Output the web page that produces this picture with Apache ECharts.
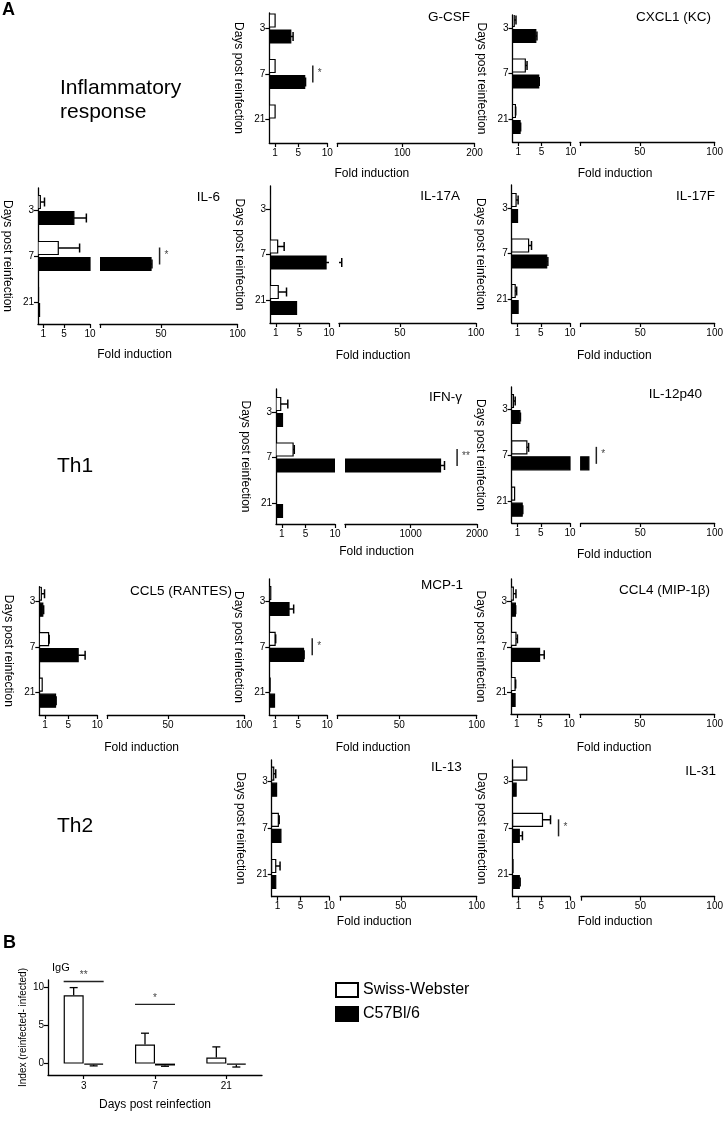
<!DOCTYPE html>
<html><head><meta charset="utf-8">
<script src="https://cdn.jsdelivr.net/npm/echarts@6/dist/echarts.min.js"></script>
<style>html,body{margin:0;padding:0;background:#fff}#c{width:726px;height:1141px}</style>
</head><body><div id="c"></div>
<script>
// ---------- DATA ----------
const categories = ['3', '7', '21'];
const lowTicks = [1, 5, 10];
const highTicks100 = [50, 100];
const highTicks200 = [100, 200];
const highTicks2000 = [1000, 2000];

// Fold induction, order: day 3, day 7, day 21 ; SW = Swiss-Webster (white), B6 = C57Bl/6 (black)
const gcsfSW = [1.0, 1.0, 1.0];     const gcsfSWErr = [0, 0, 0];
const gcsfB6 = [3.7, 6.1, 0];       const gcsfB6Err = [0.4, 0.15, 0];
const gcsfSig = [[7.5, 1, '*']];

const cxcl1SW = [0.3, 2.2, 0.5];    const cxcl1SWErr = [0.3, 0.3, 0.05];
const cxcl1B6 = [4.0, 4.5, 1.3];    const cxcl1B6Err = [0.2, 0.1, 0.1];
const cxcl1Sig = [];

const il6SW = [0.45, 3.9, 0.1];     const il6SWErr = [0.8, 4.1, 0];
const il6B6 = [6.9, 43.4, 0.3];     const il6B6Err = [2.4, 0.6, 0];
const il6Sig = [[49, 1, '*']];

const il17aSW = [0.05, 1.3, 1.4];   const il17aSWErr = [0, 1.1, 1.4];
const il17aB6 = [0.05, 9.5, 4.5];   const il17aB6Err = [0, 2.3, 0];
const il17aSig = [];

const il17fSW = [0.75, 2.9, 0.6];   const il17fSWErr = [0.35, 0.5, 0.25];
const il17fB6 = [1.0, 6.0, 1.1];    const il17fB6Err = [0, 0.2, 0];
const il17fSig = [];

const ifngSW = [0.8, 2.9, 0];       const ifngSWErr = [1.2, 0.2, 0];
const ifngB6 = [1.1, 1450, 1.1];    const ifngB6Err = [0, 60, 0];
const ifngSig = [[1700, 1, '**']];

const il12SW = [0.3, 2.6, 0.5];     const il12SWErr = [0.3, 0.3, 0];
const il12B6 = [1.4, 15.5, 1.8];    const il12B6Err = [0.1, 0, 0.1];
const il12Sig = [[20.5, 1, '*']];

const ccl5SW = [0.35, 1.6, 0.5];    const ccl5SWErr = [0.55, 0.1, 0];
const ccl5B6 = [0.6, 6.7, 2.8];     const ccl5B6Err = [0.15, 1.2, 0.1];
const ccl5Sig = [];

const mcp1SW = [0.25, 1.0, 0.15];   const mcp1SWErr = [0, 0.1, 0];
const mcp1B6 = [3.4, 5.9, 0.9];     const mcp1B6Err = [0.8, 0.1, 0];
const mcp1Sig = [[7.4, 1, '*']];

const ccl4SW = [0.4, 0.85, 0.7];    const ccl4SWErr = [0.45, 0.25, 0.1];
const ccl4B6 = [0.75, 4.9, 0.7];    const ccl4B6Err = [0.05, 0.8, 0];
const ccl4Sig = [];

const il13SW = [0.35, 1.15, 0.7];   const il13SWErr = [0.35, 0.15, 0.75];
const il13B6 = [0.85, 1.6, 0.7];    const il13B6Err = [0, 0, 0];
const il13Sig = [];

const il31SW = [2.45, 5.2, 0.05];   const il31SWErr = [0, 1.4, 0];
const il31B6 = [0.6, 1.15, 1.15];   const il31B6Err = [0, 0.55, 0.15];
const il31Sig = [[8.0, 1, '*']];

// Panel B: IgG index
const igTicks = [0, 5, 10];
const igSW = [9.0, 2.5, 0.8];       const igSWErr = [1.0, 1.5, 1.4];
const igB6 = [-0.15, -0.25, -0.15]; const igB6Err = [0.15, 0.1, 0.3];
const igSig = [[0, 10.8, '**'], [1, 7.8, '*']];

// ---------- PANEL DEFINITIONS ----------
const panelDefs = [
  {title:'G-CSF', sw:gcsfSW, swErr:gcsfSWErr, b6:gcsfB6, b6Err:gcsfB6Err, sig:gcsfSig, high:highTicks200},
  {title:'CXCL1 (KC)', sw:cxcl1SW, swErr:cxcl1SWErr, b6:cxcl1B6, b6Err:cxcl1B6Err, sig:cxcl1Sig, high:highTicks100},
  {title:'IL-6', sw:il6SW, swErr:il6SWErr, b6:il6B6, b6Err:il6B6Err, sig:il6Sig, high:highTicks100},
  {title:'IL-17A', sw:il17aSW, swErr:il17aSWErr, b6:il17aB6, b6Err:il17aB6Err, sig:il17aSig, high:highTicks100},
  {title:'IL-17F', sw:il17fSW, swErr:il17fSWErr, b6:il17fB6, b6Err:il17fB6Err, sig:il17fSig, high:highTicks100},
  {title:'IFN-γ', sw:ifngSW, swErr:ifngSWErr, b6:ifngB6, b6Err:ifngB6Err, sig:ifngSig, high:highTicks2000},
  {title:'IL-12p40', sw:il12SW, swErr:il12SWErr, b6:il12B6, b6Err:il12B6Err, sig:il12Sig, high:highTicks100},
  {title:'CCL5 (RANTES)', sw:ccl5SW, swErr:ccl5SWErr, b6:ccl5B6, b6Err:ccl5B6Err, sig:ccl5Sig, high:highTicks100},
  {title:'MCP-1', sw:mcp1SW, swErr:mcp1SWErr, b6:mcp1B6, b6Err:mcp1B6Err, sig:mcp1Sig, high:highTicks100},
  {title:'CCL4 (MIP-1β)', sw:ccl4SW, swErr:ccl4SWErr, b6:ccl4B6, b6Err:ccl4B6Err, sig:ccl4Sig, high:highTicks100},
  {title:'IL-13', sw:il13SW, swErr:il13SWErr, b6:il13B6, b6Err:il13B6Err, sig:il13Sig, high:highTicks100},
  {title:'IL-31', sw:il31SW, swErr:il31SWErr, b6:il31B6, b6Err:il31B6Err, sig:il31Sig, high:highTicks100}
];

// ---------- LAYOUT (pixels) ----------
const layouts = {
  'G-CSF':        {x0:269.3, x10:327.3, x2:337.3, x2e:474.5, top:13,    bot:143,   c0:28.5,  c2:119.5, tr:470,   ty:17,    fy:174},
  'CXCL1 (KC)':   {x0:512.5, x10:570.7, x2:580,   x2e:717.7, top:15,    bot:142,   c0:28,    c2:119,   tr:711,   ty:17,    fy:174},
  'IL-6':         {x0:31.7,  x10:90,    x2:100,   x2e:237.5, top:188,   bot:324,   c0:210,   c2:302,   tr:220,   ty:197,   fy:355},
  'IL-17A':       {x0:270,   x10:329,   x2:339,   x2e:476,   top:186,   bot:323,   c0:209,   c2:300,   tr:460,   ty:196,   fy:356},
  'IL-17F':       {x0:511.7, x10:570,   x2:580.7, x2e:717,   top:185,   bot:323,   c0:208,   c2:299,   tr:715,   ty:196,   fy:356},
  'IFN-γ':        {x0:276,   x10:335,   x2:345,   x2e:477,   top:389,   bot:524,   c0:412,   c2:503,   tr:462,   ty:397,   fy:552},
  'IL-12p40':     {x0:511.7, x10:570,   x2:580.7, x2e:717,   top:387,   bot:523,   c0:409,   c2:501.7, tr:702,   ty:394,   fy:555},
  'CCL5 (RANTES)':{x0:39.3,  x10:97.3,  x2:107.3, x2e:244,   top:586.7, bot:715,   c0:601.7, c2:692.7, tr:232,   ty:591.7, fy:748},
  'MCP-1':        {x0:269.3, x10:327.3, x2:337.3, x2e:476.7, top:579,   bot:715,   c0:601,   c2:692.7, tr:463,   ty:585,   fy:748},
  'CCL4 (MIP-1β)':{x0:511,   x10:569.3, x2:580,   x2e:717,   top:579,   bot:714,   c0:601.7, c2:692,   tr:710,   ty:590,   fy:748},
  'IL-13':        {x0:271.7, x10:329.3, x2:340,   x2e:476.7, top:760,   bot:896.7, c0:781.7, c2:874,   tr:461.7, ty:767.7, fy:922},
  'IL-31':        {x0:512.7, x10:570,   x2:581,   x2e:717.3, top:760,   bot:896.7, c0:781.7, c2:874,   tr:716,   ty:771,   fy:922}
};

const FONT = '"Liberation Sans", Arial, sans-serif';
const BAR_OFF = 8, BAR_H = 13;
const grids = [], xAxes = [], yAxes = [], series = [], graphics = [];

function barSeries(gi, data, offset, fill, segMin, segMax) {
  return {type:'custom', xAxisIndex:gi, yAxisIndex:gi, clip:true, silent:true, data,
    renderItem(params, api) {
      const v = api.value(0), idx = api.value(1);
      if (!(v > segMin)) return null;
      const a = api.coord([segMin, idx]), b = api.coord([Math.min(v, segMax), idx]);
      return {type:'rect', shape:{x:a[0], y:a[1] + offset - BAR_H / 2, width:b[0] - a[0], height:BAR_H},
        style:{fill, stroke:'#000', lineWidth:1.2}};
    }};
}
function errSeries(gi, data, offset, segMin, segMax) {
  return {type:'custom', xAxisIndex:gi, yAxisIndex:gi, clip:true, silent:true, data,
    renderItem(params, api) {
      const v = api.value(0), idx = api.value(1), e = api.value(2);
      if (!(e > 0) || v + e <= segMin || v >= segMax) return null;
      const a = api.coord([Math.max(v, segMin), idx]), b = api.coord([v + e, idx]);
      const y = a[1] + offset;
      const kids = [{type:'line', shape:{x1:a[0], y1:y, x2:b[0], y2:y}, style:{stroke:'#000', lineWidth:1.5}}];
      if (v + e <= segMax) kids.push({type:'line', shape:{x1:b[0], y1:y - 4.5, x2:b[0], y2:y + 4.5}, style:{stroke:'#000', lineWidth:1.5}});
      return {type:'group', children:kids};
    }};
}
function sigSeries(gi, sig) {
  return {type:'custom', xAxisIndex:gi, yAxisIndex:gi, silent:true, data: sig.map(s => [s[0], s[1]]),
    renderItem(params, api) {
      const p = api.coord([api.value(0), api.value(1)]);
      return {type:'group', children:[
        {type:'line', shape:{x1:p[0], y1:p[1] - 8.5, x2:p[0], y2:p[1] + 8.5}, style:{stroke:'#222', lineWidth:1.5}},
        {type:'text', style:{text:sig[params.dataIndex][2], x:p[0] + 5, y:p[1] - 1, verticalAlign:'middle', align:'left',
          font:'10px ' + FONT, fill:'#444'}}
      ]};
    }};
}
function txt(str, x, y, size, align, weight) {
  return {type:'text', x, y, silent:true, style:{text:str, fill:'#000', font:(weight || 'normal') + ' ' + size + 'px ' + FONT,
    textAlign:align, textVerticalAlign:'middle', align:align, verticalAlign:'middle'}};
}
const axisLineStyle = {color:'#000', width:1.3};
const plain = v => String(v);

panelDefs.forEach(p => {
  const L = layouts[p.title];
  const sp = (L.c2 - L.c0) / 2;
  const yMin = -(L.c0 - L.top) / sp;
  const yMax = 2 + (L.bot - L.c2) / sp;
  const hiMax = p.high[p.high.length - 1];
  const segs = [
    {left:L.x0, width:L.x10 - L.x0, min:0, max:10, ticks:lowTicks, labels:lowTicks, first:true},
    {left:L.x2, width:L.x2e - L.x2, min:10, max:hiMax, ticks:[10].concat(p.high), labels:p.high, first:false}
  ];
  const swData = p.sw.map((v, i) => [v, i, p.swErr[i]]);
  const b6Data = p.b6.map((v, i) => [v, i, p.b6Err[i]]);
  segs.forEach(s => {
    const gi = grids.length;
    grids.push({left:s.left, top:L.top, width:s.width, height:L.bot - L.top});
    xAxes.push({gridIndex:gi, type:'value', min:s.min, max:s.max, position:'bottom',
      axisLine:{show:true, onZero:false, lineStyle:axisLineStyle},
      axisTick:{show:true, customValues:s.ticks, length:4, lineStyle:{color:'#000', width:1.2}},
      axisLabel:{customValues:s.labels, formatter:plain, fontSize:10, color:'#000', margin:5, fontFamily:FONT, showMinLabel:true, showMaxLabel:true},
      splitLine:{show:false}});
    yAxes.push({gridIndex:gi, type:'value', inverse:true, min:yMin, max:yMax, show:s.first, position:'left',
      axisLine:{show:true, onZero:false, lineStyle:axisLineStyle},
      axisTick:{show:true, customValues:[0, 1, 2], length:4, lineStyle:{color:'#000', width:1.2}},
      axisLabel:{customValues:[0, 1, 2], formatter:v => categories[Math.round(v)], fontSize:10, color:'#000', margin:4, fontFamily:FONT},
      splitLine:{show:false},
      name:s.first ? 'Days post reinfection' : '', nameLocation:'middle', nameRotate:-90, nameGap:25,
      nameTextStyle:{fontSize:12, color:'#000', fontFamily:FONT}});
    series.push(barSeries(gi, swData, -BAR_OFF, '#fff', s.min, s.max));
    series.push(barSeries(gi, b6Data, BAR_OFF, '#000', s.min, s.max));
    series.push(errSeries(gi, swData, -BAR_OFF, s.min, s.max));
    series.push(errSeries(gi, b6Data, BAR_OFF, s.min, s.max));
    const sigHere = p.sig.filter(sg => s.first ? sg[0] <= 10 : sg[0] > 10);
    if (sigHere.length) series.push(sigSeries(gi, sigHere));
  });
  graphics.push(txt(p.title, L.tr, L.ty, 13.5, 'right'));
  graphics.push(txt('Fold induction', (L.x0 + L.x2e) / 2, L.fy, 12, 'center'));
});

// ---------- PANEL B ----------
const gB = grids.length;
const B_BAR_W = 20;
grids.push({left:48, top:980, width:214, height:95});
xAxes.push({gridIndex:gB, type:'category', data:categories,
  axisLine:{show:true, onZero:false, lineStyle:axisLineStyle},
  axisTick:{show:true, alignWithLabel:true, length:4, lineStyle:{color:'#000', width:1.2}},
  axisLabel:{fontSize:10, color:'#000', margin:6, fontFamily:FONT},
  name:'Days post reinfection', nameLocation:'middle', nameGap:24,
  nameTextStyle:{fontSize:12, color:'#000', fontFamily:FONT}});
yAxes.push({gridIndex:gB, type:'value', min:-1.5, max:11,
  axisLine:{show:true, onZero:false, lineStyle:axisLineStyle},
  axisTick:{show:true, customValues:igTicks, length:4, lineStyle:{color:'#000', width:1.2}},
  axisLabel:{customValues:igTicks, fontSize:10, color:'#000', margin:4, fontFamily:FONT},
  splitLine:{show:false},
  name:'Index (reinfected- infected)', nameLocation:'middle', nameRotate:90, nameGap:20,
  nameTextStyle:{fontSize:10, color:'#000', fontFamily:FONT}});
series.push({type:'bar', name:'Swiss-Webster', xAxisIndex:gB, yAxisIndex:gB, data:igSW, barWidth:B_BAR_W, barGap:'0%',
  itemStyle:{color:'#fff', borderColor:'#000', borderWidth:1.2}, silent:true});
series.push({type:'bar', name:'C57Bl/6', xAxisIndex:gB, yAxisIndex:gB, data:igB6, barWidth:B_BAR_W, barGap:'0%',
  itemStyle:{color:'#000', borderColor:'#000', borderWidth:1.2}, silent:true});
function vErrSeries(vals, errs, offset) {
  return {type:'custom', xAxisIndex:gB, yAxisIndex:gB, silent:true, data:vals.map((v, i) => [i, v, errs[i]]),
    renderItem(params, api) {
      const idx = api.value(0), v = api.value(1), e = api.value(2);
      if (!(e > 0)) return null;
      const dir = v < 0 ? -1 : 1;
      const a = api.coord([idx, v]), b = api.coord([idx, v + dir * e]);
      const x = a[0] + offset;
      return {type:'group', children:[
        {type:'line', shape:{x1:x, y1:a[1], x2:x, y2:b[1]}, style:{stroke:'#000', lineWidth:1.3}},
        {type:'line', shape:{x1:x - 4, y1:b[1], x2:x + 4, y2:b[1]}, style:{stroke:'#000', lineWidth:1.3}}
      ]};
    }};
}
series.push(vErrSeries(igSW, igSWErr, -B_BAR_W / 2));
series.push(vErrSeries(igB6, igB6Err, B_BAR_W / 2));
series.push({type:'custom', xAxisIndex:gB, yAxisIndex:gB, silent:true, data:igSig.map(s => [s[0], s[1]]),
  renderItem(params, api) {
    const p = api.coord([api.value(0), api.value(1)]);
    return {type:'group', children:[
      {type:'line', shape:{x1:p[0] - B_BAR_W, y1:p[1], x2:p[0] + B_BAR_W, y2:p[1]}, style:{stroke:'#222', lineWidth:1.3}},
      {type:'text', style:{text:igSig[params.dataIndex][2], x:p[0], y:p[1] - 1, align:'center', verticalAlign:'bottom',
        font:'10px ' + FONT, fill:'#444'}}
    ]};
  }});

// ---------- FREE TEXT ----------
graphics.push(txt('A', 2, 10, 18, 'left', 'bold'));
graphics.push(txt('Inflammatory', 60, 88, 21, 'left'));
graphics.push(txt('response', 60, 112, 21, 'left'));
graphics.push(txt('Th1', 57, 466, 21, 'left'));
graphics.push(txt('Th2', 57, 826, 21, 'left'));
graphics.push(txt('B', 3, 943, 18, 'left', 'bold'));
graphics.push(txt('IgG', 52, 968, 11, 'left'));

const option = {
  animation:false,
  backgroundColor:'#fff',
  textStyle:{fontFamily:FONT},
  grid:grids, xAxis:xAxes, yAxis:yAxes, series,
  legend:{data:['Swiss-Webster', 'C57Bl/6'], orient:'vertical', left:335, top:982, padding:0, icon:'rect',
    itemWidth:22, itemHeight:14, itemGap:8, selectedMode:false,
    textStyle:{fontSize:16, color:'#000', fontFamily:FONT}},
  graphic:{elements:graphics}
};
const chart = echarts.init(document.getElementById('c'));
chart.setOption(option);
</script></body></html>
